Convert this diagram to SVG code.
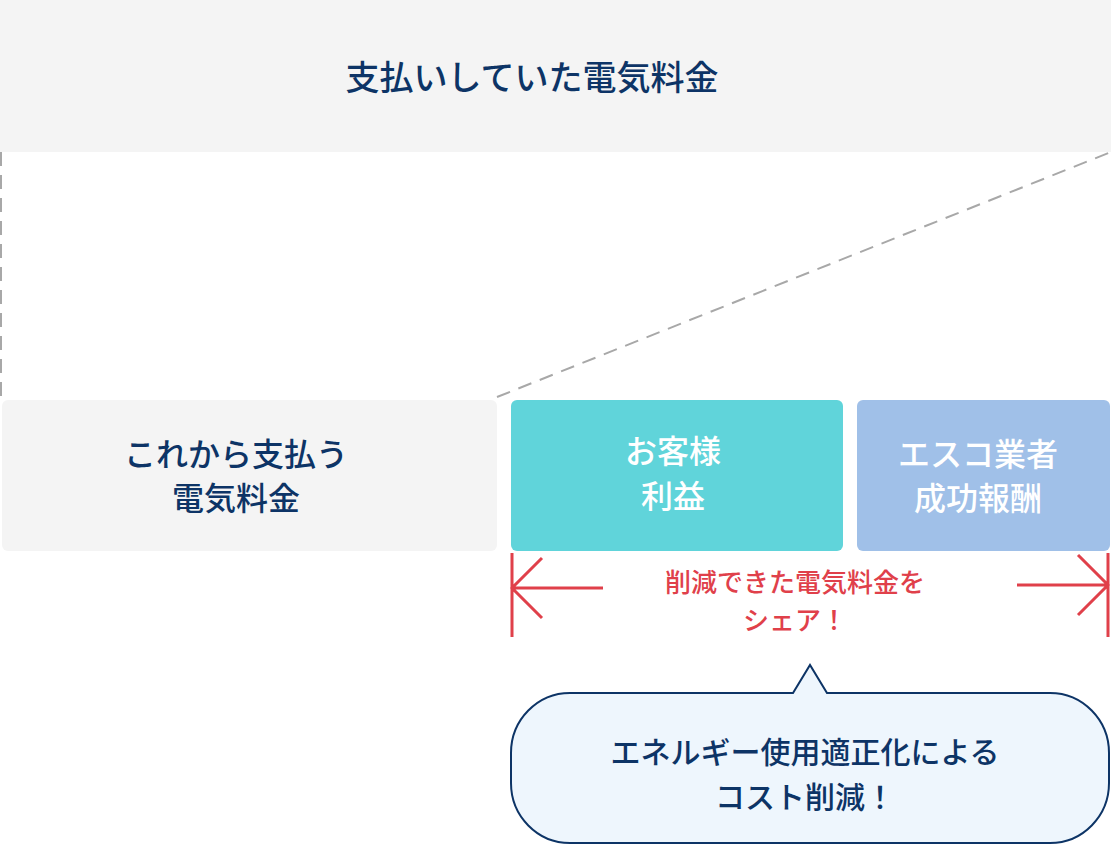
<svg xmlns="http://www.w3.org/2000/svg" width="1111" height="845" viewBox="0 0 1111 845">
<style>
text{font-family:"Noto Sans CJK JP",sans-serif;text-anchor:middle;font-weight:500}
.d{fill:#0d3466}.w{fill:#fff}.r{fill:#e0404a;font-size:26px}
.dash{stroke:#a8a8a8;stroke-width:2;stroke-dasharray:14 9;fill:none}
.red{stroke:#e0404a;stroke-width:3;fill:none}
</style>
<g id="top"><rect x="0" y="0" width="1111" height="152" fill="#f4f4f4"/><text class="d" x="532" y="90" font-size="34">支払いしていた電気料金</text></g>
<g id="connectors">
<path class="dash" d="M1 152V400M497 397L1111 152"/>
<path class="red" d="M512 553V637M512 588H603M542 558L512 588L542 618M1108 553V637M1017 585H1108M1078 555L1108 585L1078 615"/>
</g>
<g id="future"><rect x="2" y="400" width="495" height="151" rx="6" fill="#f4f4f4"/><text class="d" font-size="32" x="236" y="466">これから支払う</text><text class="d" font-size="32" x="236" y="510">電気料金</text></g>
<g id="customer"><rect x="511" y="400" width="332" height="151" rx="6" fill="#60d4da"/><text class="w" font-size="32" x="673" y="463">お客様</text><text class="w" font-size="32" x="673" y="508">利益</text></g>
<g id="esco"><rect x="857" y="400" width="253" height="151" rx="6" fill="#a0c0e8"/><text class="w" font-size="32" x="978" y="466">エスコ業者</text><text class="w" font-size="32" x="978" y="510">成功報酬</text></g>
<g id="share"><text class="r" x="795" y="592">削減できた電気料金を</text><text class="r" x="795" y="630">シェア！</text></g>
<g id="bubble"><path d="M571 693H793L810 665L827 693H1050A59 60 0 0 1 1109 753V783A59 60 0 0 1 1050 843H570A59 60 0 0 1 511 783V753A59 60 0 0 1 570 693Z" fill="#eef6fd" stroke="#0d3466" stroke-width="2"/><text class="d" font-size="30" x="805" y="763">エネルギー使用適正化による</text><text class="d" font-size="30" x="805" y="808">コスト削減！</text></g>
</svg>
